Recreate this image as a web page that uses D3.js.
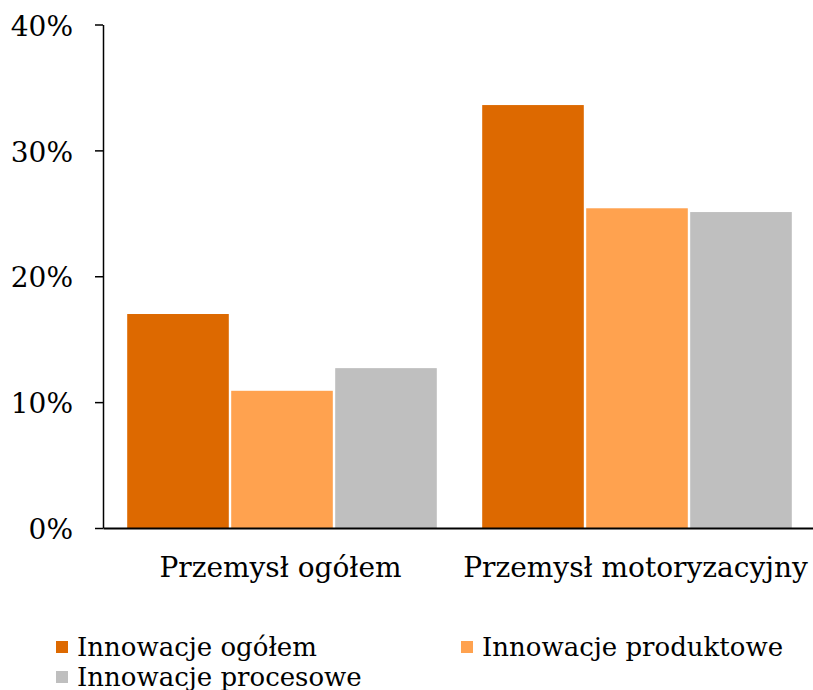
<!DOCTYPE html>
<html>
<head>
<meta charset="utf-8">
<script src="https://cdn.jsdelivr.net/npm/d3@7"></script>
<style>
  body { margin: 0; background: #fff; }
  text { font-family: "DejaVu Serif", serif; fill: #000; }
</style>
</head>
<body>
<div id="chart"></div>
<script>
"use strict";

// data
const categories = ["Przemysł ogółem", "Przemysł motoryzacyjny"];
const series = ["Innowacje ogółem", "Innowacje produktowe", "Innowacje procesowe"];
const colors = ["#dd6900", "#ffa24f", "#bfbfbf"];
const values = [
    [17.0, 10.9, 12.7],   // Przemysł ogółem
    [33.6, 25.4, 25.1]    // Przemysł motoryzacyjny
];
const yTicks = [0, 10, 20, 30, 40];

const width = 813, height = 690;
const margin = {top: 24.5, right: 0, bottom: 162, left: 103};
const axisFont = 28;
const legendFont = 26;

const svg = d3.select("#chart").append("svg")
    .attr("width", width)
    .attr("height", height);

const y = d3.scaleLinear()
    .domain([0, 40])
    .range([height - margin.bottom, margin.top]);

const x0 = d3.scaleBand()
    .domain(categories)
    .range([margin.left, width - margin.right]);

const x1 = d3.scaleBand()
    .domain(series)
    .range([23, x0.bandwidth() - 20]);

// bars
const groups = svg.selectAll("g.group")
    .data(categories)
    .enter().append("g")
    .attr("class", "group")
    .attr("transform", d => "translate(" + x0(d) + ",0)");

groups.selectAll("rect")
    .data((d, i) => values[i].map((v, j) => ({key: series[j], value: v, color: colors[j]})))
    .enter().append("rect")
    .attr("x", d => x1(d.key) + 1.2)
    .attr("width", x1.bandwidth() - 2.4)
    .attr("y", d => y(d.value))
    .attr("height", d => y(0) - y(d.value))
    .attr("fill", d => d.color);

// y axis
const yAxis = svg.append("g")
    .attr("transform", "translate(" + margin.left + ",0)")
    .call(d3.axisLeft(y)
        .tickValues(yTicks)
        .tickFormat(d => d + "%")
        .tickSize(8)
        .tickSizeOuter(0)
        .tickPadding(22));
yAxis.select(".domain").attr("stroke", "#000").attr("stroke-width", 1.5);
yAxis.selectAll(".tick line").attr("stroke", "#000").attr("stroke-width", 1.5);
yAxis.selectAll("text")
    .style("font-size", axisFont + "px")
    .attr("dy", "0.38em");

// x axis
const xAxis = svg.append("g")
    .attr("transform", "translate(0," + y(0) + ")")
    .call(d3.axisBottom(x0)
        .tickSize(0)
        .tickSizeOuter(0)
        .tickPadding(29));
xAxis.select(".domain").attr("stroke", "#000").attr("stroke-width", 2);
xAxis.selectAll("text").style("font-size", axisFont + "px");

// legend
const legendPos = [[56, 647], [461, 647], [56, 677]];
const legend = svg.selectAll("g.legend")
    .data(series)
    .enter().append("g")
    .attr("class", "legend")
    .attr("transform", (d, i) => "translate(" + legendPos[i][0] + "," + legendPos[i][1] + ")");

legend.append("rect")
    .attr("x", 0)
    .attr("y", -6)
    .attr("width", 12)
    .attr("height", 12)
    .attr("fill", (d, i) => colors[i]);

legend.append("text")
    .attr("x", 21)
    .attr("dy", "0.33em")
    .style("font-size", legendFont + "px")
    .text(d => d);
</script>
</body>
</html>
